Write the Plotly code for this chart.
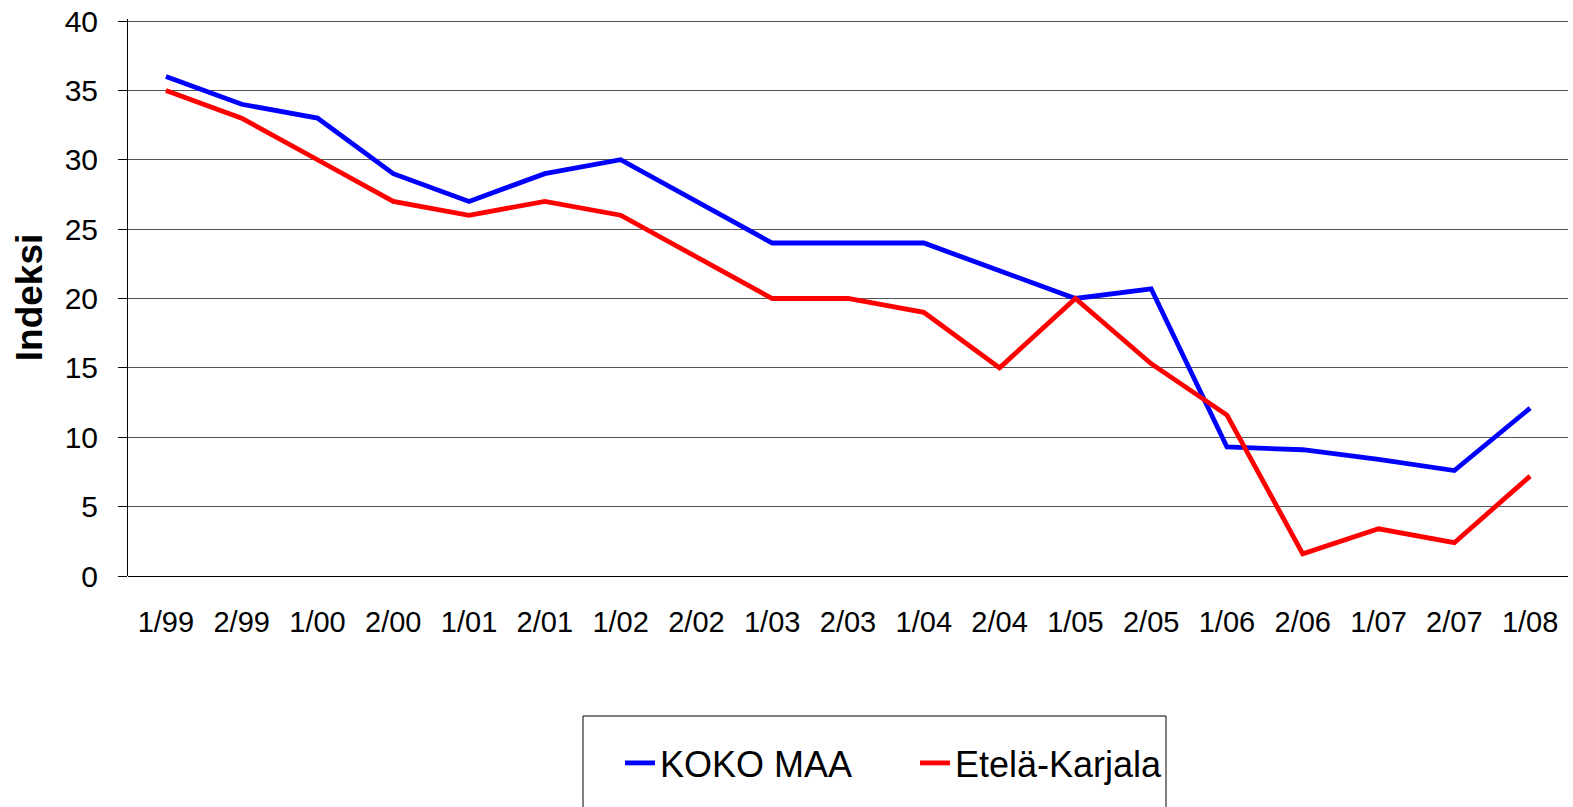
import plotly.graph_objects as go

categories = ["1/99", "2/99", "1/00", "2/00", "1/01", "2/01", "1/02", "2/02", "1/03", "2/03",
              "1/04", "2/04", "1/05", "2/05", "1/06", "2/06", "1/07", "2/07", "1/08"]
koko_maa = [36, 34, 33, 29, 27, 29, 30, 27, 24, 24, 24, 22, 20, 20.7, 9.3, 9.1, 8.4, 7.6, 12.1]
etela_karjala = [35, 33, 30, 27, 26, 27, 26, 23, 20, 20, 19, 15, 20, 15.3, 11.6, 1.6, 3.4, 2.4, 7.2]
y_ticks = [0, 5, 10, 15, 20, 25, 30, 35, 40]

FONT = "Arial, 'Liberation Sans', sans-serif"
W, H = 1573, 807
PLOT_TOP = 21        # where y=40 sits
PLOT_BOTTOM = 576    # where y=0 sits
UNIT = (PLOT_BOTTOM - PLOT_TOP) / 40.0
ML, MR, MT = 128, 5, 19
Y_MAX = 40 + (PLOT_TOP - MT) / UNIT  # small headroom so the 40 gridline is drawn
MB = H - PLOT_BOTTOM
PW = W - ML - MR
PH = H - MT - MB

def px_x(x):
    return (x - ML) / PW

def px_y(y):
    return (PLOT_BOTTOM - y) / PH

fig = go.Figure()
fig.add_trace(go.Scatter(x=categories, y=koko_maa, mode="lines", name="KOKO MAA",
                         line=dict(color="#0000FF", width=4.8)))
fig.add_trace(go.Scatter(x=categories, y=etela_karjala, mode="lines", name="Etelä-Karjala",
                         line=dict(color="#FF0000", width=4.8)))

fig.update_layout(
    width=W, height=H,
    margin=dict(l=ML, r=MR, t=MT, b=MB, autoexpand=False),
    paper_bgcolor="white", plot_bgcolor="white",
    font=dict(family=FONT, color="black"),
    showlegend=True,
    legend=dict(orientation="h", x=px_x(620), y=px_y(763), xanchor="left", yanchor="middle",
                font=dict(size=36, family=FONT, color="black"), borderwidth=0,
                bgcolor="rgba(0,0,0,0)", itemwidth=30, tracegroupgap=0,
                entrywidth=250, entrywidthmode="pixels"),
    xaxis=dict(type="category", categoryorder="array", categoryarray=categories,
               range=[-0.5, len(categories) - 0.5],
               showgrid=False, zeroline=False, showline=False, ticks="",
               tickfont=dict(size=29, family=FONT, color="black"),
               ticklabelstandoff=26),
    yaxis=dict(range=[0, Y_MAX], tickvals=y_ticks, ticktext=[str(v) for v in y_ticks],
               showgrid=True, gridcolor="#555555", gridwidth=1,
               zeroline=True, zerolinecolor="black", zerolinewidth=1,
               showline=True, linecolor="black", linewidth=1,
               ticks="outside", ticklen=9, tickcolor="black", tickwidth=1,
               tickfont=dict(size=30, family=FONT, color="black"),
               ticklabelstandoff=14, ticklabeloverflow="allow",
               title=dict(text="<b>Indeksi</b>", font=dict(size=37, family=FONT, color="black"),
                          standoff=10)),
    shapes=[dict(type="rect", xref="paper", yref="paper",
                 x0=px_x(583), x1=px_x(1166), y0=px_y(716), y1=px_y(815),
                 line=dict(color="black", width=1), fillcolor="rgba(0,0,0,0)", layer="below")],
)

fig.write_html("out.html", config={"displayModeBar": False},
               post_script="document.body.style.margin='0px';document.body.style.overflow='hidden';")
